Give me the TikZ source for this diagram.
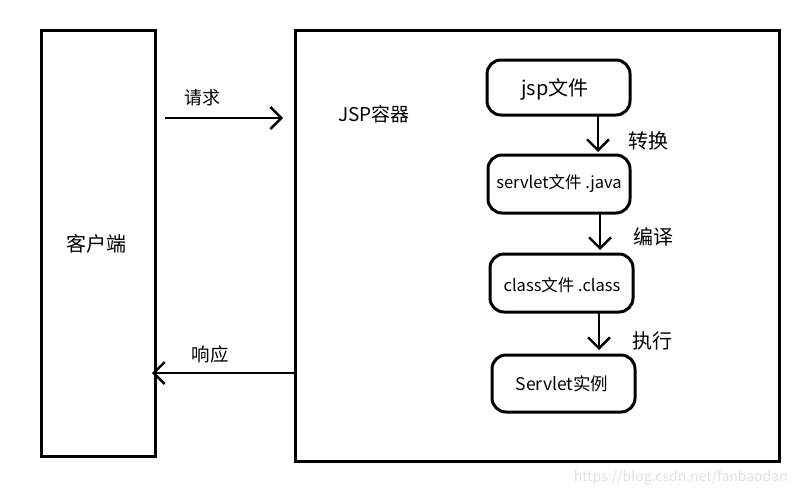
\documentclass[tikz,border=0pt]{standalone}
\usepackage{fontspec}
\setmainfont{Noto Sans CJK SC}
\usetikzlibrary{arrows.meta}
\begin{document}
\begin{tikzpicture}[x=1pt,y=-1pt,
  frame/.style={draw=black,line width=3pt},
  stage/.style={draw=black,line width=3pt,rounded corners=14pt},
  conn/.style={line width=2.4pt,-{Straight Barb[length=11pt,width=22pt,line width=2.4pt]}},
  lbl/.style={font=\fontsize{20}{23}\selectfont,inner sep=0pt},
  boxtxt/.style={font=\fontsize{16.5}{19}\selectfont,inner sep=0pt}]
\useasboundingbox (0,0) rectangle (794,498);
\fill[white] (0,0) rectangle (794,498);
% client
\draw[frame] (41,30) rectangle (155,456);
\node[lbl] (client) at (96,244) {客户端};
\coordinate (clientR2) at (152,373);
% container
\draw[frame] (295,30) rectangle (779,461);
\node[lbl,font=\fontsize{19}{22}\selectfont] (cont) at (374,114) {JSP容器};
\coordinate (contL1) at (283,118);
\coordinate (contL2) at (295,373);
% request / response
\draw[conn] (165,118) -- (contL1);
\node[lbl,font=\fontsize{18}{21}\selectfont] (req) at (202,98) {请求};
\draw[conn] (contL2) -- (clientR2);
\node[lbl,font=\fontsize{18.5}{21}\selectfont] (resp) at (210,354) {响应};
% stages
\draw[stage] (487,60) rectangle (630,115);
\node[lbl,font=\fontsize{20}{23}\selectfont] (jsp) at (555,89) {jsp文件};
\draw[stage] (488,155) rectangle (630,213);
\node[boxtxt] (java) at (559,184) {servlet文件 .java};
\draw[stage] (490,254) rectangle (633,312);
\node[boxtxt] (cls) at (562,285) {class文件 .class};
\draw[stage] (492,355) rectangle (635,412);
\node[lbl,font=\fontsize{17.5}{20}\selectfont] (inst) at (562,384) {Servlet实例};
% vertical arrows
\coordinate (a1s) at (598,116); \coordinate (a1e) at (598,152);
\coordinate (a2s) at (600,213); \coordinate (a2e) at (600,250);
\coordinate (a3s) at (599,313); \coordinate (a3e) at (599,350);
\draw[conn] (a1s) -- (a1e);
\draw[conn] (a2s) -- (a2e);
\draw[conn] (a3s) -- (a3e);
\node[lbl] (t1) at (648,141) {转换};
\node[lbl] (t2) at (653,237) {编译};
\node[lbl] (t3) at (652,341) {执行};
% watermark
\node[inner sep=0pt,text=black!12,font=\fontsize{14}{16}\selectfont,anchor=east] (wm) at (788,478) {https://blog.csdn.net/fanbaodan};
\end{tikzpicture}
\end{document}
